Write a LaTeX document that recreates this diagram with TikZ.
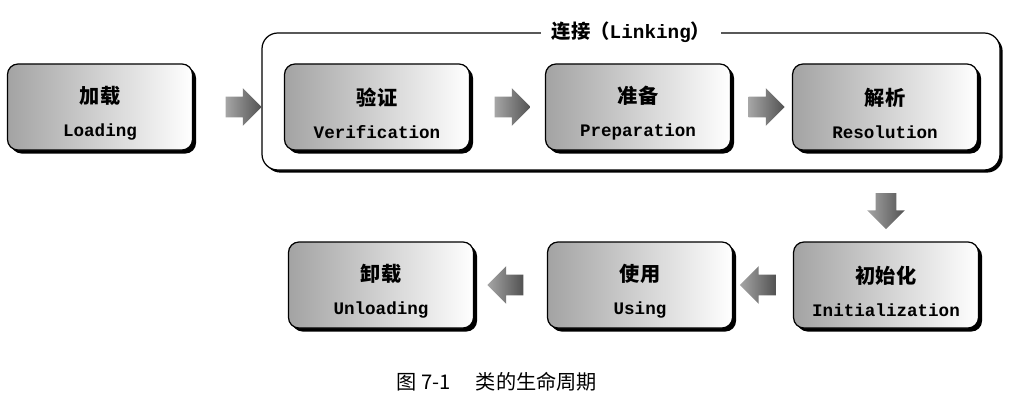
\documentclass[tikz,border=0pt]{standalone}
\usepackage{fontspec}
\setmonofont{Liberation Mono}
\newfontfamily\cjk{Noto Sans CJK SC}
\usetikzlibrary{positioning,calc,shapes.arrows,shadows}

\tikzset{
  stage/.style={draw, line width=0.7pt, rounded corners=6pt, align=center,
    minimum width=3.7cm, minimum height=1.72cm,
    left color=black!36, right color=white,
    drop shadow={shadow xshift=2pt, shadow yshift=-2pt, opacity=1, fill=black}},
  fatarrow/.style={single arrow, draw=none, inner xsep=0pt, inner ysep=0.2cm,
    minimum height=0.72cm, single arrow head extend=0.17cm,
    left color=black!35, right color=black!68},
  linkframe/.style={draw, line width=0.7pt, rounded corners=9pt, fill=white,
    minimum width=14.76cm, minimum height=2.74cm,
    drop shadow={shadow xshift=1.5pt, shadow yshift=-1.5pt, opacity=1, fill=black}},
}
\newcommand{\stagetext}[2]{{\cjk\bfseries\fontsize{11.5}{13}\selectfont\rule{0pt}{17pt}#1}\\[7pt]{\ttfamily\bfseries\fontsize{10}{12}\selectfont #2}}

\begin{document}
\begin{tikzpicture}
\useasboundingbox (0,0) rectangle (20.68,8.28);

% linking frame
\node[linkframe] (linking) at (12.62,6.25) {};
\node[fill=white, inner xsep=6pt, inner ysep=1pt] (linktitle) at (linking.north) {\cjk\bfseries\fontsize{11}{13}\selectfont 连接（\texttt{Linking}）};

% stages
\node[stage] (load)   at (2.00,6.14)  {\stagetext{加载}{Loading}};
\node[stage] (verif)  at (7.54,6.14)  {\stagetext{验证}{Verification}};
\node[stage] (prep)   at (12.76,6.14) {\stagetext{准备}{Preparation}};
\node[stage] (resol)  at (17.70,6.14) {\stagetext{解析}{Resolution}};
\node[stage] (init)   at (17.72,2.58) {\stagetext{初始化}{Initialization}};
\node[stage] (using)  at (12.80,2.58) {\stagetext{使用}{Using}};
\node[stage] (unload) at (7.62,2.58)  {\stagetext{卸载}{Unloading}};

% arrows
\node[fatarrow] (a1) at ($(load.east)!0.5!(verif.west)$) {};
\node[fatarrow] (a2) at ($(verif.east)!0.5!(prep.west)$) {};
\node[fatarrow] (a3) at ($(prep.east)!0.5!(resol.west)$) {};
\node[fatarrow, rotate=-90] (a4) at ($(linking.south -| init)!0.5!(init.north)$) {};
\node[fatarrow, rotate=180] (a5) at ($(init.west)!0.5!(using.east)$) {};
\node[fatarrow, rotate=180] (a6) at ($(using.west)!0.5!(unload.east)$) {};

% caption
\node (caption) at (9.94,0.64) {\cjk\fontsize{11.5}{13}\selectfont 图 7-1\quad\ 类的生命周期};
\end{tikzpicture}
\end{document}
